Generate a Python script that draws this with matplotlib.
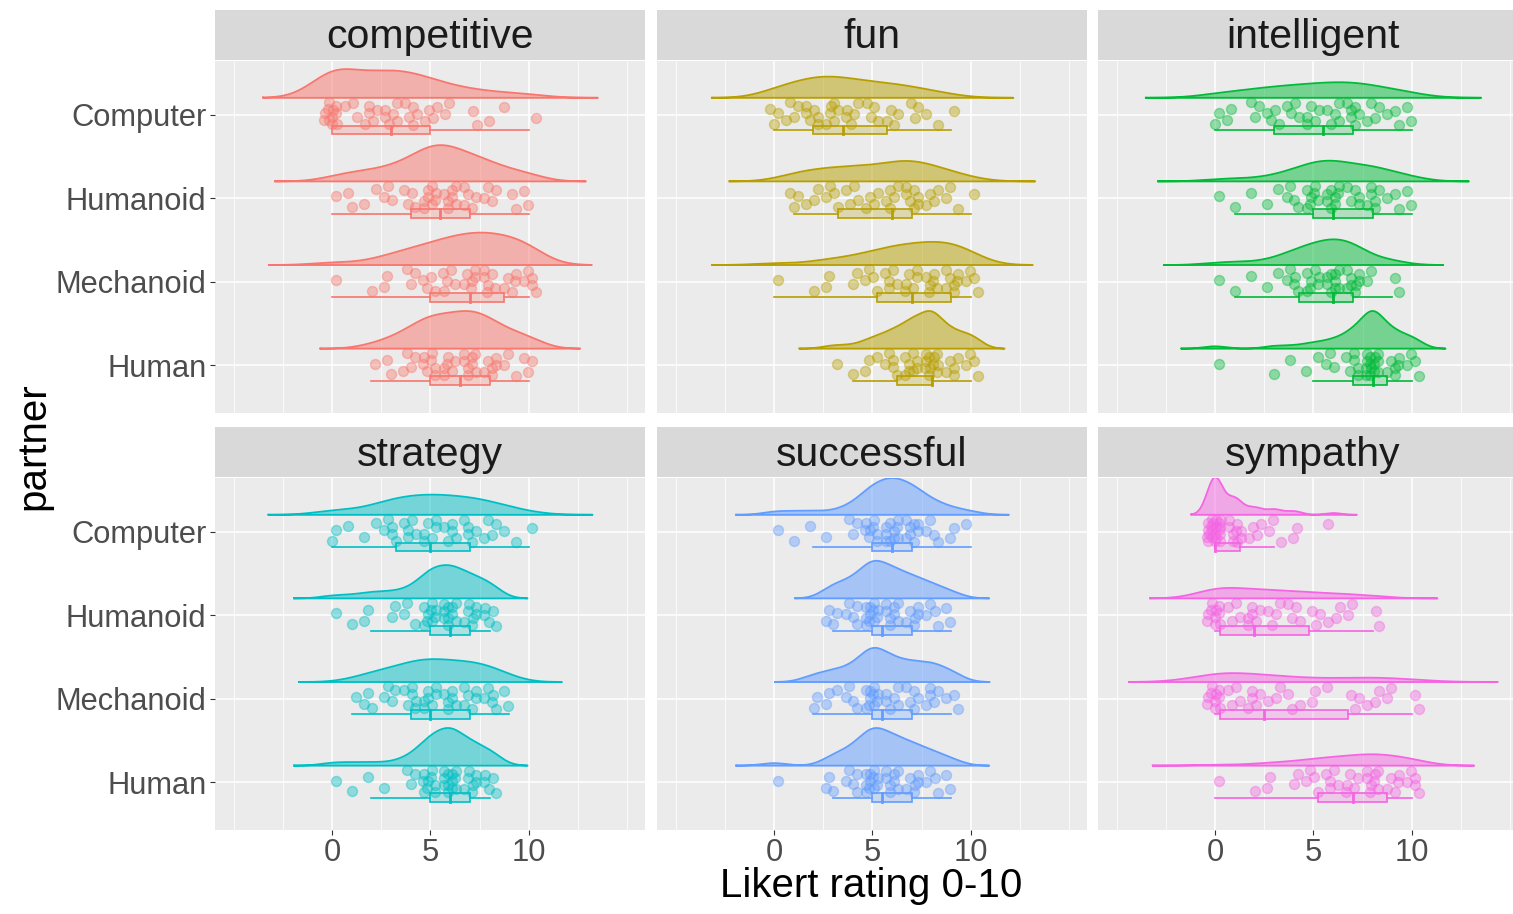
import numpy as np
import matplotlib.pyplot as plt
from matplotlib.patches import Rectangle

plt.rcParams['font.family'] = ['Liberation Sans', 'DejaVu Sans']

partners = ["Computer", "Humanoid", "Mechanoid", "Human"]
ratings = np.arange(11)  # Likert 0..10
traits = ["competitive", "fun", "intelligent", "strategy", "successful", "sympathy"]
colors = ["#F8766D", "#B79F00", "#00BA38", "#00BFC4", "#619CFF", "#F564E3"]

# answers per rating 0..10, rows: Computer, Humanoid, Mechanoid, Human
competitive = [
    [11, 3, 5, 6, 5, 4, 2, 2, 1, 1, 1],
    [1, 2, 2, 3, 4, 8, 7, 5, 4, 2, 2],
    [1, 0, 1, 2, 3, 4, 5, 6, 6, 5, 5],
    [0, 0, 1, 2, 4, 7, 6, 8, 6, 3, 3],
]
fun = [
    [3, 4, 6, 6, 5, 4, 4, 3, 2, 1, 0],
    [0, 3, 3, 4, 4, 4, 5, 7, 4, 3, 1],
    [1, 0, 1, 2, 2, 4, 5, 6, 6, 7, 4],
    [0, 0, 0, 1, 1, 3, 5, 8, 11, 5, 4],
]
intelligent = [
    [2, 2, 3, 4, 4, 5, 5, 6, 4, 3, 2],
    [1, 1, 1, 2, 4, 7, 8, 5, 6, 3, 2],
    [1, 1, 1, 2, 5, 7, 9, 8, 2, 2, 0],
    [1, 0, 0, 1, 1, 2, 3, 6, 14, 6, 4],
]
strategy = [
    [2, 1, 2, 5, 5, 6, 5, 5, 4, 2, 1],
    [1, 1, 2, 2, 3, 9, 10, 7, 5, 0, 0],
    [0, 1, 3, 4, 6, 7, 6, 6, 5, 2, 0],
    [1, 1, 1, 1, 3, 9, 12, 7, 5, 0, 0],
]
successful = [
    [1, 1, 1, 1, 3, 8, 10, 8, 4, 2, 1],
    [0, 0, 0, 4, 5, 11, 8, 6, 4, 2, 0],
    [0, 0, 2, 3, 4, 10, 6, 5, 5, 3, 0],
    [1, 0, 0, 3, 5, 11, 8, 6, 4, 2, 0],
]
sympathy = [
    [21, 9, 4, 3, 2, 0, 1, 0, 0, 0, 0],
    [10, 4, 6, 4, 4, 3, 3, 2, 2, 0, 0],
    [10, 4, 5, 3, 3, 2, 1, 3, 3, 2, 2],
    [1, 0, 1, 2, 2, 4, 5, 5, 8, 5, 5],
]
counts = [competitive, fun, intelligent, strategy, successful, sympathy]

W, H = 1513, 914
BG = "#EBEBEB"
levels = {"Computer": 4, "Humanoid": 3, "Mechanoid": 2, "Human": 1}


def bw_nrd0(x):
    sd = np.std(x, ddof=1)
    q1, q3 = np.percentile(x, [25, 75])
    lo = min(sd, (q3 - q1) / 1.34)
    if lo == 0:
        lo = sd if sd > 0 else 1.0
    return 0.9 * lo * len(x) ** -0.2


def density(x):
    bw = bw_nrd0(x)
    grid = np.linspace(x.min() - 3 * bw, x.max() + 3 * bw, 512)
    z = (grid[:, None] - x[None, :]) / bw
    d = np.exp(-0.5 * z ** 2).sum(axis=1) / (len(x) * bw * np.sqrt(2 * np.pi))
    return grid, d


def spread(n, a):
    # evenly scattered offsets in [-0.5, 0.5) for jittering
    return (np.arange(1, n + 1) * a) % 1.0 - 0.5


fig = plt.figure(figsize=(W / 100, H / 100), dpi=100)

col_left = [215, 657, 1098]
row_top = [61, 478]
panel_w, panel_h = 430, 352

for k, (trait, col, cnt) in enumerate(zip(traits, colors, counts)):
    r, c = divmod(k, 3)
    left = col_left[c] / W
    bottom = 1 - (row_top[r] + panel_h) / H
    ax = fig.add_axes([left, bottom, panel_w / W, panel_h / H])
    ax.set_facecolor(BG)
    for s in ax.spines.values():
        s.set_visible(False)

    # strip
    sax = fig.add_axes([left, 1 - (row_top[r] - 1) / H, panel_w / W, 50 / H])
    sax.set_facecolor("#D9D9D9")
    sax.set_xticks([])
    sax.set_yticks([])
    for s in sax.spines.values():
        s.set_visible(False)
    sax.text(0.5, 0.45, trait, ha="center", va="center", fontsize=29.5,
             color="#1A1A1A", transform=sax.transAxes)

    # gridlines
    for gx in [-5, -2.5, 2.5, 7.5, 12.5, 15]:
        ax.axvline(gx, color="white", lw=0.55, zorder=0)
    for gx in [0, 5, 10]:
        ax.axvline(gx, color="white", lw=1.1, zorder=0)
    for gy in range(1, 5):
        ax.axhline(gy, color="white", lw=1.1, zorder=0)

    data = [np.repeat(ratings, row).astype(float) for row in cnt]
    dens = [density(x) for x in data]
    dmax = max(d.max() for _, d in dens)

    for p, x, (grid, d) in zip(partners, data, dens):
        lv = levels[p]
        base = lv + 0.2
        top = base + 0.45 * d / dmax
        ax.fill_between(grid, base, top, color=col, alpha=0.5, lw=0, zorder=2)
        ax.plot(np.r_[grid, grid[::-1], grid[:1]],
                np.r_[top, np.full_like(grid, base), top[:1]],
                color=col, lw=1.3, zorder=3)

        n = len(x)
        px = x + 0.8 * spread(n, 0.7548776662)
        py = lv + 0.3 * spread(n, 0.5698402910)
        ax.scatter(px, py, s=52, facecolor=col, edgecolor=col, linewidths=1.0,
                   alpha=0.4, zorder=4)

        q1, med, q3 = np.percentile(x, [25, 50, 75])
        iqr = q3 - q1
        lo_w = x[x >= q1 - 1.5 * iqr].min()
        hi_w = x[x <= q3 + 1.5 * iqr].max()
        yc, bh = lv - 0.185, 0.105
        ax.plot([lo_w, q1], [yc, yc], color=col, lw=1.2, zorder=5)
        ax.plot([q3, hi_w], [yc, yc], color=col, lw=1.2, zorder=5)
        ax.add_patch(Rectangle((q1, yc - bh / 2), q3 - q1, bh, facecolor=col,
                               alpha=0.25, lw=0, zorder=5))
        ax.add_patch(Rectangle((q1, yc - bh / 2), q3 - q1, bh, facecolor="none",
                               edgecolor=col, lw=1.2, zorder=6))
        ax.plot([med, med], [yc - bh / 2, yc + bh / 2], color=col, lw=2.0, zorder=6)

    ax.set_xlim(-5.94, 15.89)
    ax.set_ylim(0.43, 4.64)
    ax.set_xticks([0, 5, 10])
    ax.set_yticks([levels[p] for p in partners])
    ax.set_yticklabels(partners)
    ax.tick_params(axis="both", length=3.6, width=0.8, color="#333333",
                   labelsize=22.2, labelcolor="#4D4D4D", pad=2.5)
    if r == 0:
        ax.tick_params(axis="x", labelbottom=False, length=0)
    if c > 0:
        ax.tick_params(axis="y", labelleft=False, length=0)

fig.text(871 / W, 1 - 886 / H, "Likert rating 0-10", ha="center", va="center",
         fontsize=29, color="black")
fig.text(33 / W, 1 - 446 / H, "partner", ha="center", va="center",
         rotation=90, fontsize=29, color="black")

fig.savefig("out.png", dpi=100, facecolor="white")
